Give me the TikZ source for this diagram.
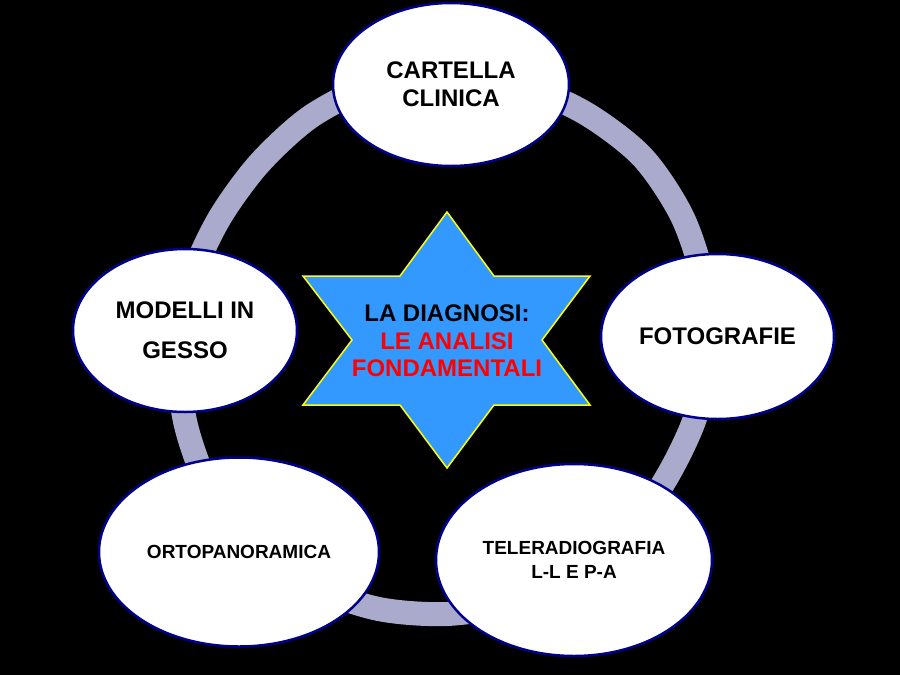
\documentclass[tikz,border=0pt]{standalone}
\usepackage{fontspec}
\setmainfont{Liberation Sans}
\usetikzlibrary{shapes.geometric}
\definecolor{ringc}{RGB}{170,170,204}
\definecolor{navyb}{RGB}{0,0,140}
\definecolor{starblue}{RGB}{51,153,255}
\definecolor{staryel}{RGB}{255,255,0}
\begin{document}
\begin{tikzpicture}[x=1pt,y=-1pt,
  oval/.style={ellipse, draw=navyb, line width=2.5pt, fill=white, inner sep=0pt, align=center, text=black},
  bigtxt/.style={font=\bfseries\fontsize{24}{28}\selectfont},
  smalltxt/.style={font=\bfseries\fontsize{19}{24}\selectfont}]
\fill[black] (0,0) rectangle (900,675);
\useasboundingbox (0,0) rectangle (900,675);
% ring
\draw[ringc, line width=24pt] plot[smooth cycle] coordinates {
 (447,74) (518.7,84.4) (585,113) (642.2,156.8) (682.1,216.3) (703.9,283.2)
 (709,352) (694.9,418.4) (666.1,478.5) (627.3,532.3) (576,575.4) (514.3,603.1)
 (447,614) (378.2,608.9) (312,585.8) (254.7,544.3) (209.7,489) (185.2,422.1)
 (179,352) (190.1,283.2) (218.4,220) (258.9,163.9) (311,116.4) (375.3,84.4)};
% ellipses
\node[oval, bigtxt, minimum width=236pt, minimum height=163pt] (cart) at (451,84.5) {CARTELLA\\CLINICA};
\node[oval, font=\bfseries\fontsize{24}{40}\selectfont, minimum width=224pt, minimum height=163pt] (mod) at (185,330.5) {MODELLI IN\\GESSO};
\node[oval, bigtxt, minimum width=233pt, minimum height=165pt] (foto) at (717.5,336.5) {FOTOGRAFIE};
\node[oval, smalltxt, minimum width=280pt, minimum height=189pt] (orto) at (239,552) {ORTOPANORAMICA};
\node[oval, smalltxt, minimum width=276pt, minimum height=192pt] (tele) at (574,560) {TELERADIOGRAFIA\\L-L E P-A};
% star
\draw[staryel, fill=starblue, line width=1.5pt, line join=miter]
 (447,212) -- (494,276) -- (590,276) -- (542,340) -- (590,405) -- (494,405)
 -- (447,468) -- (400,405) -- (303,405) -- (352,340) -- (303,276) -- (400,276) -- cycle;
\node[align=center, font=\bfseries\fontsize{24}{27.5}\selectfont] (diag) at (447,341)
 {LA DIAGNOSI:\\\textcolor{red}{LE ANALISI}\\\textcolor{red}{FONDAMENTALI}};
\end{tikzpicture}
\end{document}
